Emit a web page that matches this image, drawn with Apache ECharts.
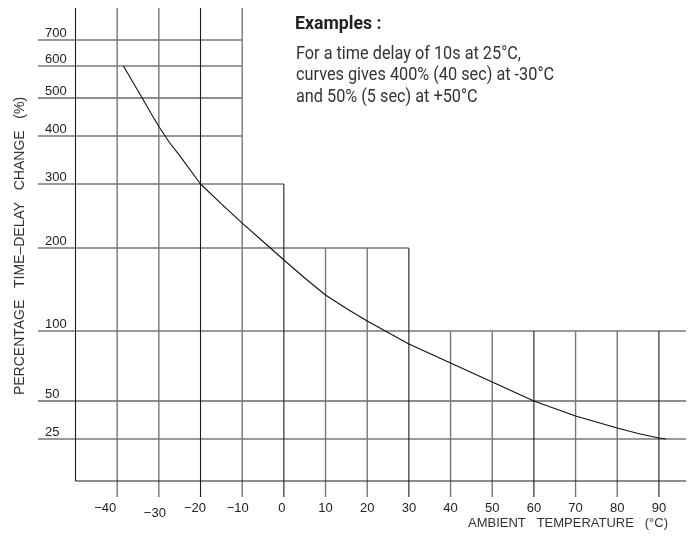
<!DOCTYPE html>
<html>
<head>
<meta charset="utf-8">
<script src="https://cdn.jsdelivr.net/npm/echarts@6/dist/echarts.min.js"></script>
<style>
html,body{margin:0;padding:0;background:#fff;}
#chart{width:688px;height:537px;}
</style>
</head>
<body>
<div id="chart"></div>
<script>
// ---- data ----
const temperatures = [-38.5, -34, -32, -30, -27.5, -25, -20, -15, -10, -5, 0, 5, 10, 15, 20, 25, 30, 35, 40, 45, 50, 55, 60, 65, 70, 75, 80, 85, 90, 91.7];
const pctChange    = [600, 500, 462, 425, 387, 359, 300, 269, 239, 210.2, 185.5, 163.9, 143.4, 127.1, 112, 98.9, 90.7, 83.9, 77.1, 70.4, 63.6, 56.8, 50, 45.1, 40.1, 36.2, 32.2, 28.6, 25.7, 25];
const xTickLabels  = [-40, -30, -20, -10, 0, 10, 20, 30, 40, 50, 60, 70, 80, 90];
const yTickLabels  = [25, 50, 100, 200, 300, 400, 500, 600, 700];

// grid structure of the original nomogram
const hGridLevels = [700, 600, 500, 400, 300, 200, 100, 50, 25];
const hGridEnds   = [-10, -10, -10, -10, 0, 30, null, null, null];   // null = to right edge
const vGridTemps  = [-50, -40, -30, -20, -10, 0, 10, 20, 30, 40, 50, 60, 70, 80, 90];
const vGridTops   = [null, null, null, null, null, 300, 200, 200, 200, 100, 100, 100, 100, 100, 100]; // null = top

// non-linear percentage scale of the original (piecewise), axis units
const scalePct = [0, 25, 50, 100, 200, 300, 400, 500, 600, 700];
const scalePos = [0, 42, 80, 150, 233, 297, 345, 383, 415, 441];
const Y_MIN = -16, Y_MAX = 473, X_MIN = -59, X_MAX = 96.5;

const noteTitle = 'Examples :';
const noteLines = ['For a time delay of 10s at 25°C,', 'curves gives 400% (40 sec) at -30°C', 'and 50% (5 sec) at +50°C'];
const yTitle = 'PERCENTAGE   TIME\u2013DELAY   CHANGE   (%)';
const xTitle = 'AMBIENT   TEMPERATURE   (°C)';

function toPos(p) {
  for (let i = 1; i < scalePct.length; i++) {
    if (p <= scalePct[i]) {
      const t = (p - scalePct[i-1]) / (scalePct[i] - scalePct[i-1]);
      return scalePos[i-1] + t * (scalePos[i] - scalePos[i-1]);
    }
  }
  const n = scalePct.length - 1;
  return scalePos[n] + (p - scalePct[n]) * (scalePos[n] - scalePos[n-1]) / (scalePct[n] - scalePct[n-1]);
}

const DARK = '#1c1c1c', GRAY = '#777';
const darkLevels = [500, 50];
const darkTemps = [-50, -20, 0, 30, 60, 90];

const series = [];
hGridLevels.forEach((lv, i) => {
  const y = toPos(lv);
  const x2 = hGridEnds[i] === null ? X_MAX : hGridEnds[i];
  const dk = darkLevels.includes(lv);
  series.push({
    type: 'line', silent: true, symbol: 'none', animation: false, z: 1,
    lineStyle: { color: dk ? DARK : GRAY, width: dk ? 1.1 : 1.4 },
    data: [[X_MIN, y], [x2, y]]
  });
});
vGridTemps.forEach((t, i) => {
  const top = vGridTops[i] === null ? Y_MAX : toPos(vGridTops[i]);
  const bottom = t === -50 ? 0 : Y_MIN;
  const dk = darkTemps.includes(t);
  series.push({
    type: 'line', silent: true, symbol: 'none', animation: false, z: 1,
    lineStyle: { color: dk ? DARK : GRAY, width: dk ? 1.1 : 1.4 },
    data: [[t, bottom], [t, top]]
  });
});
// bottom boundary
series.push({
  type: 'line', silent: true, symbol: 'none', animation: false, z: 1,
  lineStyle: { color: DARK, width: 1.1 },
  data: [[-50, 0], [X_MAX, 0]]
});
// the curve
series.push({
  type: 'line', silent: true, symbol: 'none', animation: false, z: 3,
  smooth: false,
  lineStyle: { color: '#111', width: 1.1 },
  data: temperatures.map((t, i) => [t, toPos(pctChange[i])])
});

const yLabelPos = yTickLabels.map(toPos);
const LABEL_FONT = "'Liberation Sans', Arial, sans-serif";
const NOTE_FONT = "Roboto, 'Liberation Sans', sans-serif";

// condense the note font horizontally to match the original condensed typeface
const mctx = document.createElement('canvas').getContext('2d');
mctx.font = '19px ' + NOTE_FONT;
const noteScale = 225 / mctx.measureText(noteLines[0]).width;
mctx.font = 'bold 18px ' + NOTE_FONT;
const titleScale = 86.5 / mctx.measureText(noteTitle).width;

const noteY = [54, 75.5, 97];
const graphics = [
  { type: 'text', x: 295, y: 24.5, scaleX: titleScale,
    style: { text: noteTitle, font: 'bold 18px ' + NOTE_FONT, fill: '#222', align: 'left', verticalAlign: 'middle' } }
];
noteLines.forEach((ln, i) => graphics.push({
  type: 'text', x: 296, y: noteY[i], scaleX: noteScale,
  style: { text: ln, font: '19px ' + NOTE_FONT, fill: '#333', align: 'left', verticalAlign: 'middle' }
}));
graphics.push(
  { type: 'text', x: 20, y: 246, rotation: Math.PI / 2,
    style: { text: yTitle, font: '14px ' + LABEL_FONT, fill: '#333', align: 'center', verticalAlign: 'middle' } },
  { type: 'text', x: 568, y: 523,
    style: { text: xTitle, font: '13px ' + LABEL_FONT, fill: '#333', align: 'center', verticalAlign: 'middle' } }
);

// negative labels hang their minus sign to the left of the tick, as in the original
const xLabelRich = {
  m40: { padding: [0, 24, 0, 0] },
  m30: { padding: [5, 8, 0, 0] },
  m20: { padding: [0, 11, 0, 0] },
  m10: { padding: [0, 9, 0, 0] },
  z0:  { padding: [0, 4, 0, 0] }
};
Object.values(xLabelRich).forEach(s => { s.color = '#222'; s.fontFamily = LABEL_FONT; s.fontSize = 13; });
function xLabel(v) {
  const txt = v < 0 ? '\u2212' + (-v) : String(v);
  const key = v < 0 ? 'm' + (-v) : (v === 0 ? 'z0' : null);
  return key && xLabelRich[key] ? '{' + key + '|' + txt + '}' : txt;
}

const chart = echarts.init(document.getElementById('chart'), null, { renderer: 'canvas' });
chart.setOption({
  backgroundColor: '#fff',
  animation: false,
  grid: { left: 38, right: 2, top: 8, bottom: 40, containLabel: false },
  xAxis: {
    type: 'value', min: X_MIN, max: X_MAX,
    axisLine: { show: false }, axisTick: { show: false }, splitLine: { show: false },
    axisLabel: {
      customValues: xTickLabels,
      margin: 5,
      color: '#222', fontFamily: LABEL_FONT, fontSize: 13,
      formatter: xLabel,
      rich: xLabelRich
    }
  },
  yAxis: {
    type: 'value', min: Y_MIN, max: Y_MAX,
    axisLine: { show: false }, axisTick: { show: false }, splitLine: { show: false },
    axisLabel: {
      inside: true, customValues: yLabelPos, margin: 7,
      verticalAlign: 'bottom', align: 'left',
      color: '#222', fontFamily: LABEL_FONT, fontSize: 13,
      formatter: v => {
        const idx = yLabelPos.findIndex(p => Math.abs(p - v) < 1e-6);
        return idx >= 0 ? String(yTickLabels[idx]) : '';
      }
    }
  },
  graphic: graphics,
  series: series
});
</script>
</body>
</html>
